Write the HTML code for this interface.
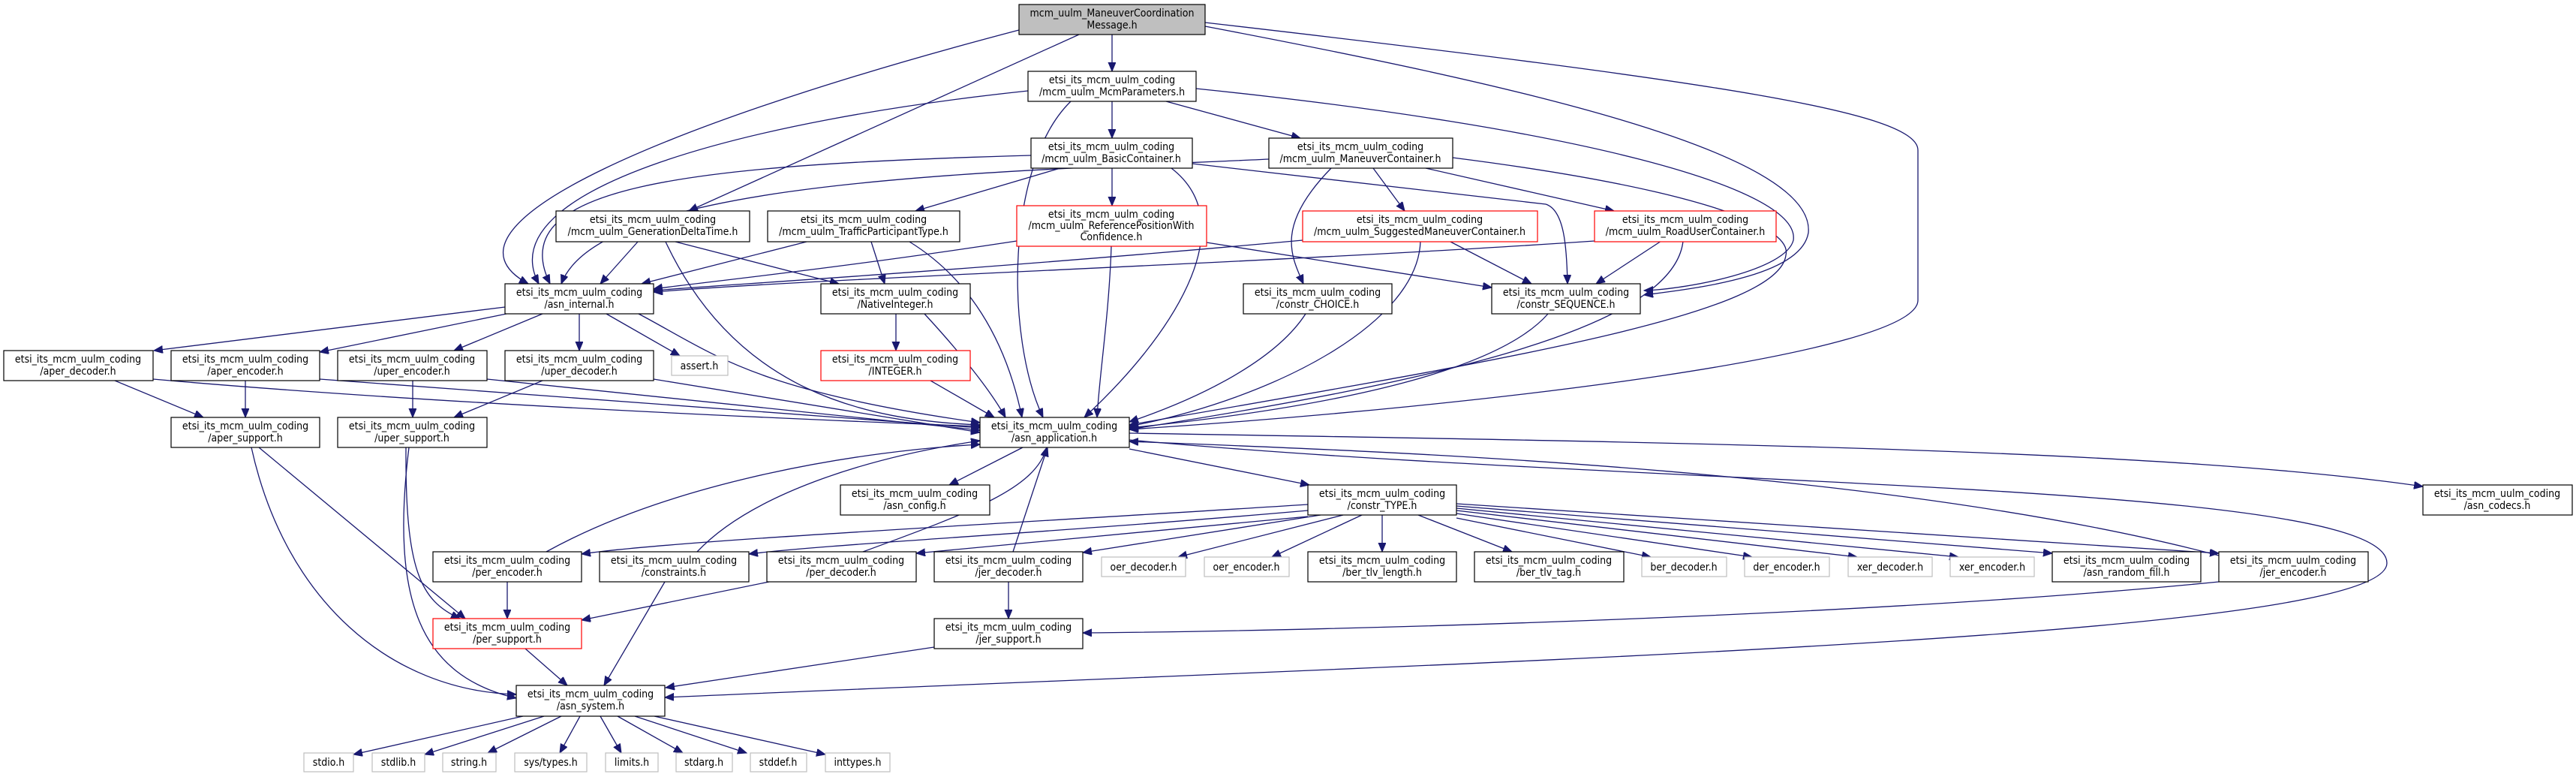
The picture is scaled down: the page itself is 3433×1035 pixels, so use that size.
<!DOCTYPE html>
<html><head><meta charset="utf-8"><style>
html,body{margin:0;padding:0;background:#fff;}
svg{display:block;}
text{font-family:"DejaVu Sans Condensed","Liberation Sans Narrow","Liberation Sans",sans-serif;font-size:14px;fill:#000;text-anchor:middle;}
.e{fill:none;stroke:#191970;stroke-width:1.3;marker-end:url(#a);}
.n{fill:#fff;stroke:#000;stroke-width:1.2;}
.r{fill:#fff;stroke:#ff0000;stroke-width:1.2;}
.g{fill:#fff;stroke:#bfbfbf;stroke-width:1.2;}
</style></head><body>
<svg width="3433" height="1035" viewBox="0 0 3433 1035" xmlns="http://www.w3.org/2000/svg">
<defs><marker id="a" markerUnits="userSpaceOnUse" markerWidth="14" markerHeight="12" refX="12" refY="5" orient="auto"><path d="M0,0 L12,5 L0,10 z" fill="#191970" stroke="#191970"/></marker></defs>

<path class="e" d="M1482,46 L1482,95"/>
<path class="e" d="M1438,46 L918,281"/>
<path class="e" d="M1358,40 C900,160 560,300 704,378"/>
<path class="e" d="M1606,35 C2000,110 2420,200 2410,310 C2400,370 2250,385 2191,393"/>
<path class="e" d="M1606,30 C2300,110 2556,150 2556,200 L2556,400 C2556,470 2000,540 1505,572"/>
<path class="e" d="M1482,135 L1482,184"/>
<path class="e" d="M1554,135 L1733,184"/>
<path class="e" d="M1370,121 C1000,160 650,250 718,378"/>
<path class="e" d="M1594,118 C2100,170 2400,250 2390,320 C2380,360 2250,385 2191,387"/>
<path class="e" d="M1427,135 C1340,220 1340,450 1390,556"/>
<path class="e" d="M1413,224 L1220,281"/>
<path class="e" d="M1482,224 L1482,274"/>
<path class="e" d="M1374,207 C900,220 670,250 733,378"/>
<path class="e" d="M1589,218 L2060,272 C2085,280 2088,330 2089,378"/>
<path class="e" d="M1561,224 C1660,300 1560,450 1445,556"/>
<path class="e" d="M1830,224 L1872,281"/>
<path class="e" d="M1900,224 L2151,281"/>
<path class="e" d="M1774,224 C1700,300 1720,340 1737,378"/>
<path class="e" d="M1691,212 C1300,230 800,240 748,378"/>
<path class="e" d="M1936,210 C2250,250 2390,300 2380,340 C2370,420 2000,480 1505,566"/>
<path class="e" d="M850,322 L800,378"/>
<path class="e" d="M900,322 L1118,378"/>
<path class="e" d="M887,322 C980,520 1150,560 1306,566"/>
<path class="e" d="M1075,322 L855,378"/>
<path class="e" d="M1161,322 L1179,378"/>
<path class="e" d="M1212,322 C1290,370 1340,450 1362,556"/>
<path class="e" d="M1355,321 C1100,360 900,380 871,385"/>
<path class="e" d="M1481,328 C1478,420 1465,500 1462,556"/>
<path class="e" d="M1608,323 L1988,383"/>
<path class="e" d="M1736,320 C1300,360 950,380 871,387"/>
<path class="e" d="M1931,321 L2041,378"/>
<path class="e" d="M1893,321 C1890,430 1700,530 1505,568"/>
<path class="e" d="M2125,321 C1700,350 1100,370 871,389"/>
<path class="e" d="M2214,321 L2127,378"/>
<path class="e" d="M2243,321 C2230,440 1900,510 1505,572"/>
<path class="e" d="M1194,418 L1194,467"/>
<path class="e" d="M1232,418 C1280,470 1320,520 1340,556"/>
<path class="e" d="M1240,507 L1325,556"/>
<path class="e" d="M1740,418 C1700,480 1600,530 1505,562"/>
<path class="e" d="M2063,418 C2000,490 1800,540 1505,570"/>
<path class="e" d="M673,409 L205,467"/>
<path class="e" d="M675,418 L426,469"/>
<path class="e" d="M723,418 L605,467"/>
<path class="e" d="M772,418 L772,467"/>
<path class="e" d="M808,418 L906,474"/>
<path class="e" d="M851,418 C950,470 1000,520 1306,563"/>
<path class="e" d="M153,507 L271,556"/>
<path class="e" d="M204,505 C600,540 1100,560 1306,568"/>
<path class="e" d="M327,507 L327,556"/>
<path class="e" d="M426,505 L1306,570"/>
<path class="e" d="M550,507 L550,556"/>
<path class="e" d="M649,505 L1306,573"/>
<path class="e" d="M723,507 L605,556"/>
<path class="e" d="M871,505 L1306,576"/>
<path class="e" d="M335,596 C380,800 520,920 688,925"/>
<path class="e" d="M345,596 L620,824"/>
<path class="e" d="M545,596 C520,800 560,900 688,930"/>
<path class="e" d="M541,596 C540,760 560,800 613,824"/>
<path class="e" d="M728,735 C900,640 1150,600 1306,592"/>
<path class="e" d="M676,775 L676,824"/>
<path class="e" d="M929,735 C1000,660 1150,610 1306,587"/>
<path class="e" d="M886,775 L805,913"/>
<path class="e" d="M1150,735 C1300,680 1380,650 1395,596"/>
<path class="e" d="M1350,735 L1396,596"/>
<path class="e" d="M1025,775 L775,826"/>
<path class="e" d="M1344,775 L1344,824"/>
<path class="e" d="M1245,862 L887,916"/>
<path class="e" d="M700,864 L756,913"/>
<path class="e" d="M1505,586 C2200,650 3181,640 3181,750 C3181,850 2000,880 886,929"/>
<path class="e" d="M2957,775 C2500,820 1800,840 1443,843"/>
<path class="e" d="M2957,740 C2500,620 1800,600 1505,588"/>
<path class="e" d="M1363,596 L1265,646"/>
<path class="e" d="M1505,598 L1745,646"/>
<path class="e" d="M1505,577 C2300,590 2900,600 3229,648"/>
<path class="e" d="M1743,672 C1300,700 900,720 775,738"/>
<path class="e" d="M1743,680 C1400,710 1100,725 998,738"/>
<path class="e" d="M1743,688 L1221,737"/>
<path class="e" d="M1760,686 L1443,736"/>
<path class="e" d="M1790,686 L1570,742"/>
<path class="e" d="M1815,686 L1695,742"/>
<path class="e" d="M1842,686 L1842,735"/>
<path class="e" d="M1890,686 L2015,735"/>
<path class="e" d="M1941,690 L2200,742"/>
<path class="e" d="M1941,684 L2335,742"/>
<path class="e" d="M1941,680 L2475,742"/>
<path class="e" d="M1941,677 L2610,742"/>
<path class="e" d="M1941,674 L2735,737"/>
<path class="e" d="M1941,671 L2957,737"/>
<path class="e" d="M697,954 L471,1005"/>
<path class="e" d="M725,954 L566,1005"/>
<path class="e" d="M748,954 L650,1003"/>
<path class="e" d="M773,954 L746,1003"/>
<path class="e" d="M800,954 L828,1003"/>
<path class="e" d="M823,954 L910,1003"/>
<path class="e" d="M846,954 L995,1003"/>
<path class="e" d="M872,954 L1100,1005"/>

<rect x="1358" y="6" width="248" height="40" fill="#bfbfbf" stroke="#000" stroke-width="1.2"/>
<text x="1482" y="22">mcm_uulm_ManeuverCoordination</text><text x="1482" y="38">Message.h</text>

<rect class="n" x="1370" y="95" width="224" height="40"/><text x="1482" y="111">etsi_its_mcm_uulm_coding</text><text x="1482" y="127">/mcm_uulm_McmParameters.h</text>
<rect class="n" x="1374" y="184" width="215" height="40"/><text x="1481" y="200">etsi_its_mcm_uulm_coding</text><text x="1481" y="216">/mcm_uulm_BasicContainer.h</text>
<rect class="n" x="1691" y="184" width="245" height="40"/><text x="1813" y="200">etsi_its_mcm_uulm_coding</text><text x="1813" y="216">/mcm_uulm_ManeuverContainer.h</text>
<rect class="n" x="741" y="281" width="258" height="41"/><text x="870" y="297">etsi_its_mcm_uulm_coding</text><text x="870" y="313">/mcm_uulm_GenerationDeltaTime.h</text>
<rect class="n" x="1023" y="281" width="256" height="41"/><text x="1151" y="297">etsi_its_mcm_uulm_coding</text><text x="1151" y="313">/mcm_uulm_TrafficParticipantType.h</text>
<rect class="r" x="1355" y="274" width="253" height="54"/><text x="1481" y="290">etsi_its_mcm_uulm_coding</text><text x="1481" y="305">/mcm_uulm_ReferencePositionWith</text><text x="1481" y="320">Confidence.h</text>
<rect class="r" x="1736" y="281" width="313" height="41"/><text x="1892" y="297">etsi_its_mcm_uulm_coding</text><text x="1892" y="313">/mcm_uulm_SuggestedManeuverContainer.h</text>
<rect class="r" x="2125" y="281" width="242" height="41"/><text x="2246" y="297">etsi_its_mcm_uulm_coding</text><text x="2246" y="313">/mcm_uulm_RoadUserContainer.h</text>

<rect class="n" x="673" y="378" width="198" height="40"/><text x="772" y="394">etsi_its_mcm_uulm_coding</text><text x="772" y="410">/asn_internal.h</text>
<rect class="n" x="1094" y="378" width="199" height="40"/><text x="1193" y="394">etsi_its_mcm_uulm_coding</text><text x="1193" y="410">/NativeInteger.h</text>
<rect class="n" x="1657" y="378" width="198" height="40"/><text x="1756" y="394">etsi_its_mcm_uulm_coding</text><text x="1756" y="410">/constr_CHOICE.h</text>
<rect class="n" x="1988" y="378" width="198" height="40"/><text x="2087" y="394">etsi_its_mcm_uulm_coding</text><text x="2087" y="410">/constr_SEQUENCE.h</text>

<rect class="n" x="5" y="467" width="199" height="40"/><text x="104" y="483">etsi_its_mcm_uulm_coding</text><text x="104" y="499">/aper_decoder.h</text>
<rect class="n" x="228" y="467" width="198" height="40"/><text x="327" y="483">etsi_its_mcm_uulm_coding</text><text x="327" y="499">/aper_encoder.h</text>
<rect class="n" x="450" y="467" width="199" height="40"/><text x="549" y="483">etsi_its_mcm_uulm_coding</text><text x="549" y="499">/uper_encoder.h</text>
<rect class="n" x="673" y="467" width="198" height="40"/><text x="772" y="483">etsi_its_mcm_uulm_coding</text><text x="772" y="499">/uper_decoder.h</text>
<rect class="g" x="895" y="474" width="75" height="26"/><text x="932" y="492">assert.h</text>
<rect class="r" x="1094" y="467" width="199" height="40"/><text x="1193" y="483">etsi_its_mcm_uulm_coding</text><text x="1193" y="499">/INTEGER.h</text>

<rect class="n" x="228" y="556" width="198" height="40"/><text x="327" y="572">etsi_its_mcm_uulm_coding</text><text x="327" y="588">/aper_support.h</text>
<rect class="n" x="450" y="556" width="199" height="40"/><text x="549" y="572">etsi_its_mcm_uulm_coding</text><text x="549" y="588">/uper_support.h</text>
<rect class="n" x="1306" y="556" width="199" height="40"/><text x="1405" y="572">etsi_its_mcm_uulm_coding</text><text x="1405" y="588">/asn_application.h</text>

<rect class="n" x="1120" y="646" width="199" height="40"/><text x="1219" y="662">etsi_its_mcm_uulm_coding</text><text x="1219" y="678">/asn_config.h</text>
<rect class="n" x="1743" y="646" width="198" height="40"/><text x="1842" y="662">etsi_its_mcm_uulm_coding</text><text x="1842" y="678">/constr_TYPE.h</text>
<rect class="n" x="3229" y="646" width="199" height="40"/><text x="3328" y="662">etsi_its_mcm_uulm_coding</text><text x="3328" y="678">/asn_codecs.h</text>

<rect class="n" x="577" y="735" width="198" height="40"/><text x="676" y="751">etsi_its_mcm_uulm_coding</text><text x="676" y="767">/per_encoder.h</text>
<rect class="n" x="799" y="735" width="199" height="40"/><text x="898" y="751">etsi_its_mcm_uulm_coding</text><text x="898" y="767">/constraints.h</text>
<rect class="n" x="1022" y="735" width="199" height="40"/><text x="1121" y="751">etsi_its_mcm_uulm_coding</text><text x="1121" y="767">/per_decoder.h</text>
<rect class="n" x="1245" y="735" width="198" height="40"/><text x="1344" y="751">etsi_its_mcm_uulm_coding</text><text x="1344" y="767">/jer_decoder.h</text>
<rect class="g" x="1468" y="742" width="112" height="26"/><text x="1524" y="760">oer_decoder.h</text>
<rect class="g" x="1605" y="742" width="113" height="26"/><text x="1661" y="760">oer_encoder.h</text>
<rect class="n" x="1743" y="735" width="198" height="40"/><text x="1842" y="751">etsi_its_mcm_uulm_coding</text><text x="1842" y="767">/ber_tlv_length.h</text>
<rect class="n" x="1965" y="735" width="199" height="40"/><text x="2064" y="751">etsi_its_mcm_uulm_coding</text><text x="2064" y="767">/ber_tlv_tag.h</text>
<rect class="g" x="2188" y="742" width="113" height="26"/><text x="2244" y="760">ber_decoder.h</text>
<rect class="g" x="2325" y="742" width="113" height="26"/><text x="2381" y="760">der_encoder.h</text>
<rect class="g" x="2463" y="742" width="112" height="26"/><text x="2519" y="760">xer_decoder.h</text>
<rect class="g" x="2599" y="742" width="112" height="26"/><text x="2655" y="760">xer_encoder.h</text>
<rect class="n" x="2735" y="735" width="198" height="40"/><text x="2834" y="751">etsi_its_mcm_uulm_coding</text><text x="2834" y="767">/asn_random_fill.h</text>
<rect class="n" x="2957" y="735" width="199" height="40"/><text x="3056" y="751">etsi_its_mcm_uulm_coding</text><text x="3056" y="767">/jer_encoder.h</text>

<rect class="r" x="577" y="824" width="198" height="40"/><text x="676" y="840">etsi_its_mcm_uulm_coding</text><text x="676" y="856">/per_support.h</text>
<rect class="n" x="1245" y="824" width="198" height="40"/><text x="1344" y="840">etsi_its_mcm_uulm_coding</text><text x="1344" y="856">/jer_support.h</text>
<rect class="n" x="688" y="913" width="198" height="41"/><text x="787" y="929">etsi_its_mcm_uulm_coding</text><text x="787" y="945">/asn_system.h</text>

<rect class="g" x="405" y="1003" width="66" height="25"/><text x="438" y="1020">stdio.h</text>
<rect class="g" x="496" y="1003" width="70" height="25"/><text x="531" y="1020">stdlib.h</text>
<rect class="g" x="590" y="1003" width="71" height="25"/><text x="625" y="1020">string.h</text>
<rect class="g" x="686" y="1003" width="96" height="25"/><text x="734" y="1020">sys/types.h</text>
<rect class="g" x="807" y="1003" width="70" height="25"/><text x="842" y="1020">limits.h</text>
<rect class="g" x="901" y="1003" width="75" height="25"/><text x="938" y="1020">stdarg.h</text>
<rect class="g" x="1000" y="1003" width="75" height="25"/><text x="1037" y="1020">stddef.h</text>
<rect class="g" x="1100" y="1003" width="86" height="25"/><text x="1143" y="1020">inttypes.h</text>
</svg>
</body></html>
